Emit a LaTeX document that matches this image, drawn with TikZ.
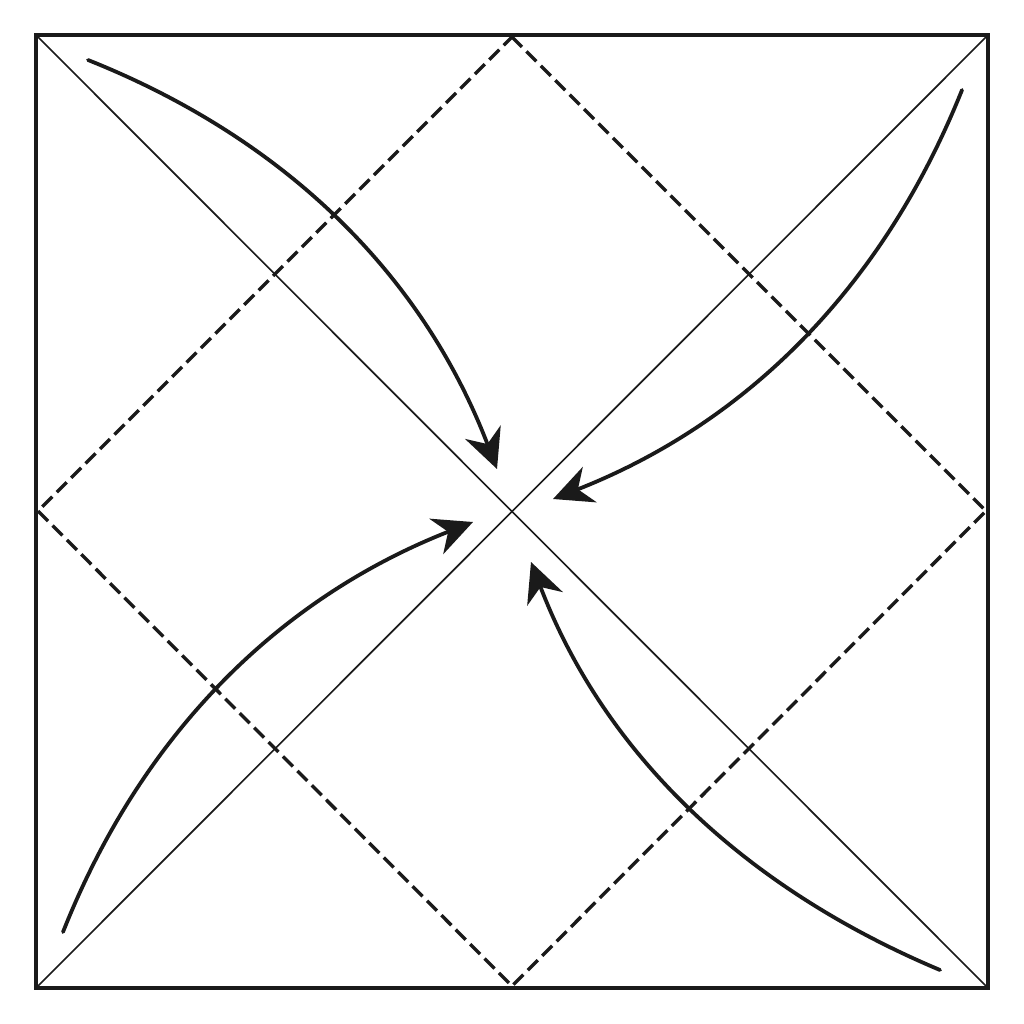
\documentclass[tikz,border=0pt]{standalone}
\usetikzlibrary{arrows.meta}
\begin{document}
\begin{tikzpicture}[x=0.025cm,y=-0.025cm,
  frame/.style={line width=2.7pt,draw={rgb,255:red,26;green,26;blue,26}},
  diag/.style={line width=1.2pt,draw={rgb,255:red,26;green,26;blue,26}},
  valley/.style={line width=2.4pt,draw={rgb,255:red,26;green,26;blue,26},dash pattern=on 10pt off 4.5pt},
  fold/.style={line width=2.7pt,draw={rgb,255:red,26;green,26;blue,26},
    -{Stealth[length=28pt,width=27pt,inset=9pt]}, shorten >=0pt}]
\useasboundingbox (0,0) rectangle (1024,1024);
\coordinate (TL) at (36,35);
\coordinate (TR) at (988,35);
\coordinate (BR) at (988,988);
\coordinate (BL) at (36,988);
\coordinate (DT) at (512,37);
\coordinate (DR) at (986,511);
\coordinate (DB) at (512,986);
\coordinate (DL) at (38,511);
\draw[diag] (TL) -- (BR);
\draw[diag] (TR) -- (BL);
\draw[valley] (DT) -- (DR) -- (DB) -- (DL) -- cycle;
\draw[frame] (TL) -- (TR) -- (BR) -- (BL) -- cycle;
\coordinate (a1s) at (88,60);   \coordinate (a1t) at (497,469);
\coordinate (a2s) at (962,90);  \coordinate (a2t) at (553,499);
\coordinate (a3s) at (63,932);  \coordinate (a3t) at (473,522);
\coordinate (a4s) at (940,970); \coordinate (a4t) at (531,562);
\draw[fold,line cap=round] (a1s) .. controls (286.7,139.3) and (423,275.7) .. (a1t);
\draw[fold,line cap=round] (a2s) .. controls (883.3,286.7) and (747,423) .. (a2t);
\draw[fold,line cap=round] (a3s) .. controls (141,735.3) and (277.7,598.7) .. (a3t);
\draw[fold,line cap=round] (a4s) .. controls (738.7,885.3) and (602.3,749.3) .. (a4t);
\end{tikzpicture}
\end{document}
